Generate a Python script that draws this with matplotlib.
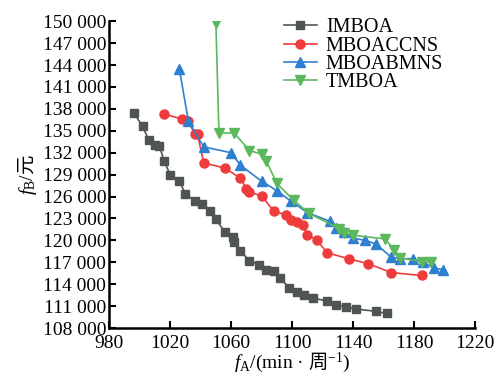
import matplotlib
matplotlib.use("Agg")
import matplotlib.pyplot as plt

# Pareto fronts
imboa_x = [996, 1002, 1006, 1010, 1013, 1016, 1020, 1026, 1030, 1036, 1041, 1046,
           1050, 1056, 1061, 1062, 1066, 1072, 1078, 1083, 1088, 1092, 1098, 1103,
           1108, 1114, 1123, 1129, 1135, 1142, 1155, 1162]
imboa_y = [137500, 135600, 133700, 133000, 132900, 130900, 129000, 128100, 126400,
           125400, 125000, 124000, 122900, 121100, 120400, 119800, 118600, 117200,
           116700, 116000, 115800, 114900, 113500, 113000, 112500, 112100, 111700,
           111200, 110900, 110600, 110300, 110000]

accns_x = [1016, 1028, 1032, 1036, 1038, 1042, 1056, 1066, 1070, 1072, 1080, 1088,
           1096, 1099, 1103, 1107, 1110, 1116, 1123, 1137, 1150, 1165, 1185]
accns_y = [137300, 136600, 136300, 134600, 134500, 130600, 129900, 128500, 127100,
           126600, 126100, 124000, 123500, 122800, 122500, 122100, 120700, 120100,
           118300, 117500, 116800, 115600, 115200]

abmns_x = [1026, 1032, 1042, 1060, 1066, 1080, 1090, 1099, 1110, 1125, 1129, 1134,
           1140, 1148, 1155, 1165, 1171, 1179, 1186, 1193, 1199]
abmns_y = [143500, 136300, 132800, 132000, 130300, 128100, 126800, 125400, 123800,
           122600, 121700, 121100, 120300, 120000, 119500, 117700, 117500, 117500,
           117000, 116200, 116000]

tmboa_x = [1050, 1052, 1062, 1072, 1080, 1083, 1090, 1101, 1111, 1131, 1134, 1140,
           1161, 1167, 1171, 1185, 1191]
tmboa_y = [149700, 134700, 134700, 132300, 131800, 130900, 127800, 125500, 123700,
           121600, 121000, 120700, 120200, 118700, 117600, 117100, 117000]

x_ticks = [980, 1020, 1060, 1100, 1140, 1180, 1220]
y_ticks = list(range(108000, 150001, 3000))

plt.rcParams["font.family"] = ["Liberation Serif", "Noto Sans CJK SC"]
plt.rcParams["mathtext.fontset"] = "custom"
plt.rcParams["mathtext.rm"] = "Liberation Serif"
plt.rcParams["mathtext.it"] = "Liberation Serif:italic"
plt.rcParams["mathtext.sf"] = "Noto Sans CJK SC"

fig = plt.figure(figsize=(4.96, 3.78), dpi=100)
ax = fig.add_axes([0.22, 0.132, 0.738, 0.812])

ax.plot(imboa_x, imboa_y, color="#4f5555", marker="s", markersize=5.5, lw=1.2, label="IMBOA")
ax.plot(accns_x, accns_y, color="#ee3b3b", marker="o", markersize=6.5, lw=1.2, label="MBOACCNS")
ax.plot(abmns_x, abmns_y, color="#2f7fd0", marker="^", markersize=7, lw=1.2, label="MBOABMNS")
ax.plot(tmboa_x, tmboa_y, color="#5cb85c", marker="v", markersize=7, lw=1.2, label="TMBOA")

ax.set_xlim(980, 1220)
ax.set_ylim(108000, 150000)
ax.set_xticks(x_ticks)
ax.set_yticks(y_ticks)
ax.set_yticklabels([f"{v // 1000} {v % 1000:03d}" for v in y_ticks])

for s in ["top", "right"]:
    ax.spines[s].set_visible(False)
for s in ["left", "bottom"]:
    ax.spines[s].set_linewidth(1.8)
ax.tick_params(direction="in", length=5, width=1.5, labelsize=14, pad=2)
ax.tick_params(axis="x", pad=5)

ax.set_xlabel(r"$f_{\mathrm{A}}$/(min · $\mathsf{周}^{-1}$)", fontsize=14, labelpad=-1)
ax.set_ylabel(r"$f_{\mathrm{B}}$/$\mathsf{元}$", fontsize=14, labelpad=3)

ax.legend(loc="upper left", bbox_to_anchor=(0.438, 1.055), frameon=False, fontsize=14.5,
          handlelength=1.65, labelspacing=-0.05, borderpad=0.2, handletextpad=0.45)

fig.savefig("out.png", dpi=100)
